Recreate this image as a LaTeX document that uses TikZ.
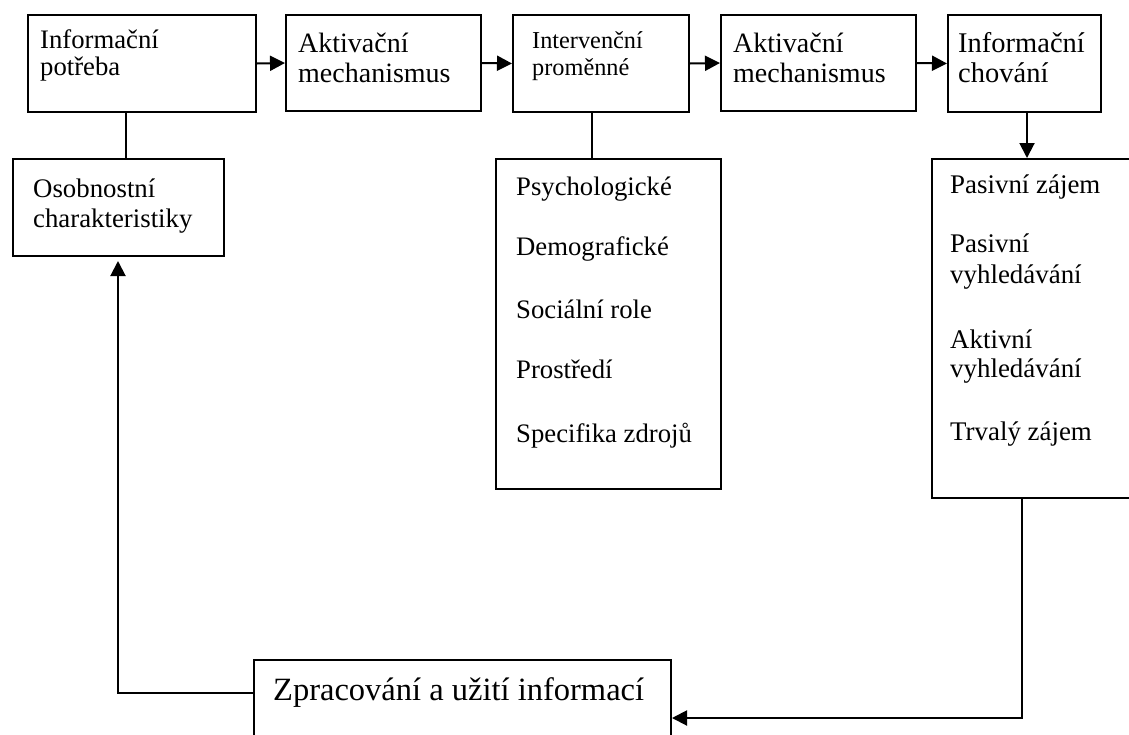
\documentclass[tikz,border=0pt]{standalone}
\usepackage{fontspec}
\setmainfont{Liberation Serif}
\usetikzlibrary{arrows.meta}
\newcommand{\fs}[1]{\fontsize{#1}{1.2\dimexpr#1pt\relax}\selectfont}
\tikzset{
  box/.style={draw, line width=2pt, anchor=north west, inner sep=0pt},
  lbl/.style={anchor=base west, inner sep=0pt},
  link/.style={line width=2pt},
  flow/.style={line width=2pt, -{Triangle[length=15pt,width=15pt]}},
}
\begin{document}
\begin{tikzpicture}[x=1pt, y=-1pt]
\useasboundingbox (0,0) rectangle (1129,734);
\clip (0,0) rectangle (1129,734);

% top row
\node[box, minimum width=228pt, minimum height=97pt] (b1) at (27,14) {};
\node[box, minimum width=195pt, minimum height=96pt] (b2) at (285,14) {};
\node[box, minimum width=176pt, minimum height=97pt] (b3) at (512,14) {};
\node[box, minimum width=195pt, minimum height=96pt] (b4) at (720,14) {};
\node[box, minimum width=153pt, minimum height=97pt] (b5) at (947,14) {};

\node[lbl, font=\fs{26.7}] (t1a) at (40,48) {Informační};
\node[lbl, font=\fs{26.7}] (t1b) at (40,75) {potřeba};
\node[lbl, font=\fs{28}] (t2a) at (298,52) {Aktivační};
\node[lbl, font=\fs{28}] (t2b) at (298,82) {mechanismus};
\node[lbl, font=\fs{24.3}] (t3a) at (532,48) {Intervenční};
\node[lbl, font=\fs{24.3}] (t3b) at (532,75) {proměnné};
\node[lbl, font=\fs{28}] (t4a) at (733,52) {Aktivační};
\node[lbl, font=\fs{28}] (t4b) at (733,82) {mechanismus};
\node[lbl, font=\fs{28.5}] (t5a) at (958,52) {Informační};
\node[lbl, font=\fs{28.5}] (t5b) at (958,82) {chování};

% second row
\node[box, minimum width=211pt, minimum height=97pt] (osob) at (12,158) {};
\node[lbl, font=\fs{26.8}] (toa) at (33,197) {Osobnostní};
\node[lbl, font=\fs{26.8}] (tob) at (33,227) {charakteristiky};

\node[box, minimum width=225pt, minimum height=330pt] (psy) at (495,158) {};
\node[lbl, font=\fs{26.7}] (p1) at (516,195) {Psychologické};
\node[lbl, font=\fs{26.7}] (p2) at (516,255) {Demografické};
\node[lbl, font=\fs{26.7}] (p3) at (516,318) {Sociální role};
\node[lbl, font=\fs{26.7}] (p4) at (516,378) {Prostředí};
\node[lbl, font=\fs{26.7}] (p5) at (516,442) {Specifika zdrojů};

\node[box, minimum width=220pt, minimum height=339pt] (beh) at (931,158) {};
\node[lbl, font=\fs{26.9}] (r1) at (950,193) {Pasivní zájem};
\node[lbl, font=\fs{26.9}] (r2) at (950,252) {Pasivní};
\node[lbl, font=\fs{26.9}] (r3) at (950,283) {vyhledávání};
\node[lbl, font=\fs{26.9}] (r4) at (950,348) {Aktivní};
\node[lbl, font=\fs{26.9}] (r5) at (950,377) {vyhledávání};
\node[lbl, font=\fs{26.9}] (r6) at (950,440) {Trvalý zájem};

% bottom box
\node[box, minimum width=417pt, minimum height=90pt] (use) at (253,659) {};
\node[lbl, font=\fs{32.5}] (tu) at (273,700) {Zpracování a užití informací};

% routing columns and rows
\coordinate (xa) at (126,0);
\coordinate (xb) at (592,0);
\coordinate (xc) at (1027,0);
\coordinate (xd) at (1022,0);
\coordinate (xe) at (118,0);
\coordinate (ya) at (0,718);
\coordinate (yb) at (0,693);

% connectors
\draw[flow] (b1.east) -- (b2.west);
\draw[flow] (b2.east) -- (b3.west);
\draw[flow] (b3.east) -- (b4.west);
\draw[flow] (b4.east) -- (b5.west);
\draw[link] (b1.south -| xa) -- (osob.north -| xa);
\draw[link] (b3.south -| xb) -- (psy.north -| xb);
\draw[flow] (b5.south -| xc) -- (beh.north -| xc);
\draw[flow] (beh.south -| xd) -- (xd |- ya) -- (use.east |- ya);
\draw[flow, shorten >=4pt] (use.west |- yb) -- (xe |- yb) -- (osob.south -| xe);
\end{tikzpicture}
\end{document}
